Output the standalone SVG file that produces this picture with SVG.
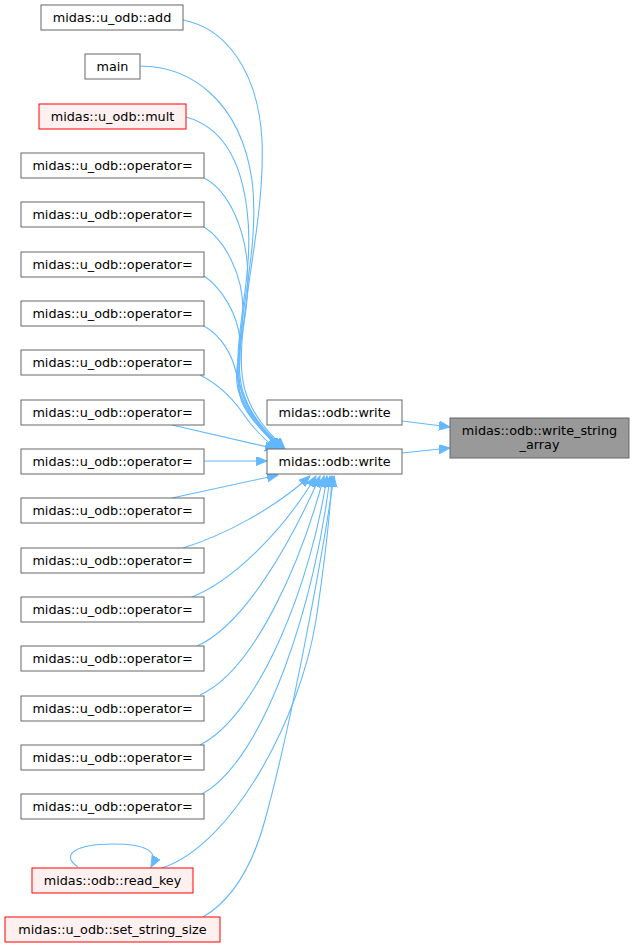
<svg xmlns="http://www.w3.org/2000/svg" width="635" height="948" viewBox="0 0 635 948">
<style>
.n rect{fill:#ffffff;stroke:#666666;stroke-width:1}
.r rect{fill:#fff0f0;stroke:#ff0000;stroke-width:1}
.h rect{fill:#999999;stroke:#666666;stroke-width:1}
text{font-family:"DejaVu Sans","Noto Sans",sans-serif;font-size:12.8px;fill:#000000;text-anchor:middle}
#edges path{fill:none;stroke:#63b8ff;stroke-width:1.1;marker-end:url(#ah)}
</style>
<defs>
<marker id="ah" markerUnits="userSpaceOnUse" markerWidth="12" markerHeight="10" viewBox="0 0 12 10" refX="11" refY="4.5" orient="auto">
<path d="M0,0 L11,4.5 L0,9 Z" fill="#63b8ff" stroke="#63b8ff" stroke-width="1"/>
</marker>
</defs>
<rect width="635" height="948" fill="#ffffff"/>
<g id="edges">
<path d="M402,421 L450,427"/>
<path d="M402,453 L450,448"/>
<path d="M183,20 C225,28 258,70 262,140 C266,230 230,340 245,390 C252,415 268,432 285,449"/>
<path d="M140,66 C190,66 240,100 252,180 C262,260 228,340 243,392 C251,418 268,433 284,449"/>
<path d="M186,117 C215,125 240,150 247,210 C256,280 228,345 242,393 C250,418 267,434 283,449"/>
<path d="M204,178 C228,190 248,230 248,280 C248,330 230,365 241,395 C250,420 268,434 282,449"/>
<path d="M204,227 C225,240 243,275 243,310 C243,350 230,375 241,398 C250,420 267,435 281,449"/>
<path d="M204,276 C222,288 238,315 240,340 C242,370 233,390 246,410 C255,425 268,437 280,449"/>
<path d="M204,326 C222,336 232,355 236,372 C240,392 250,412 260,425 C266,434 272,442 279,449"/>
<path d="M200,375 C220,385 232,398 242,412 C250,424 262,438 277,449"/>
<path d="M172,425 L276,449"/>
<path d="M204,461 L267,461"/>
<path d="M172,498 L278,475"/>
<path d="M183,548 C225,535 275,508 310,476"/>
<path d="M192,597 C235,580 285,528 316,476"/>
<path d="M197,646 C245,625 292,540 320,476"/>
<path d="M200,695 C255,670 302,560 324,476"/>
<path d="M200,745 C260,715 312,580 327,476"/>
<path d="M202,794 C265,760 316,600 330,476"/>
<path d="M162,868 C232,845 300,720 316,620 C322,580 330,520 332,476"/>
<path d="M203,917 C232,900 252,868 265,820 C290,730 322,560 334,476"/>
<path d="M78,867 C60,855 75,844 113,844 C143,844 160,850 151,867"/>
</g>
<g id="add" class="n"><rect x="41" y="5" width="142" height="25"/><text x="112" y="21.5">midas::u_odb::add</text></g>
<g id="main" class="n"><rect x="85" y="54" width="55" height="25"/><text x="112.5" y="70.5">main</text></g>
<g id="mult" class="r"><rect x="39" y="104" width="147" height="25"/><text x="112.5" y="120.5">midas::u_odb::mult</text></g>
<g id="op1" class="n"><rect x="21" y="153" width="183" height="25"/><text x="112.5" y="169.5">midas::u_odb::operator=</text></g>
<g id="op2" class="n"><rect x="21" y="202" width="183" height="25"/><text x="112.5" y="218.5">midas::u_odb::operator=</text></g>
<g id="op3" class="n"><rect x="21" y="252" width="183" height="25"/><text x="112.5" y="268.5">midas::u_odb::operator=</text></g>
<g id="op4" class="n"><rect x="21" y="301" width="183" height="25"/><text x="112.5" y="317.5">midas::u_odb::operator=</text></g>
<g id="op5" class="n"><rect x="21" y="350" width="183" height="25"/><text x="112.5" y="366.5">midas::u_odb::operator=</text></g>
<g id="op6" class="n"><rect x="21" y="400" width="183" height="25"/><text x="112.5" y="416.5">midas::u_odb::operator=</text></g>
<g id="op7" class="n"><rect x="21" y="449" width="183" height="25"/><text x="112.5" y="465.5">midas::u_odb::operator=</text></g>
<g id="op8" class="n"><rect x="21" y="498" width="183" height="25"/><text x="112.5" y="514.5">midas::u_odb::operator=</text></g>
<g id="op9" class="n"><rect x="21" y="548" width="183" height="25"/><text x="112.5" y="564.5">midas::u_odb::operator=</text></g>
<g id="op10" class="n"><rect x="21" y="597" width="183" height="25"/><text x="112.5" y="613.5">midas::u_odb::operator=</text></g>
<g id="op11" class="n"><rect x="21" y="646" width="183" height="25"/><text x="112.5" y="662.5">midas::u_odb::operator=</text></g>
<g id="op12" class="n"><rect x="21" y="696" width="183" height="25"/><text x="112.5" y="712.5">midas::u_odb::operator=</text></g>
<g id="op13" class="n"><rect x="21" y="745" width="183" height="25"/><text x="112.5" y="761.5">midas::u_odb::operator=</text></g>
<g id="op14" class="n"><rect x="21" y="794" width="183" height="25"/><text x="112.5" y="810.5">midas::u_odb::operator=</text></g>
<g id="read_key" class="r"><rect x="32" y="868" width="161" height="25"/><text x="112.5" y="884.5">midas::odb::read_key</text></g>
<g id="set_string_size" class="r"><rect x="5" y="917" width="215" height="25"/><text x="112.5" y="933.5">midas::u_odb::set_string_size</text></g>
<g id="write1" class="n"><rect x="267" y="400" width="135" height="25"/><text x="334.5" y="416.5">midas::odb::write</text></g>
<g id="write2" class="n"><rect x="267" y="449" width="135" height="25"/><text x="334.5" y="465.5">midas::odb::write</text></g>
<g id="write_string_array" class="h"><rect x="450" y="418" width="179" height="40"/><text x="539.5" y="434.5">midas::odb::write_string</text><text x="539.5" y="448.5">_array</text></g>
</svg>
